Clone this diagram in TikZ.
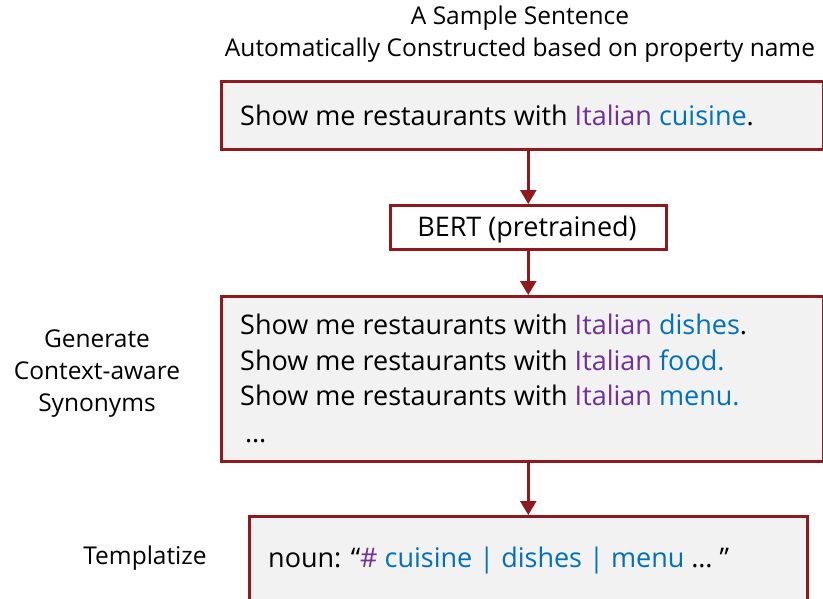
\documentclass[tikz,border=0pt]{standalone}
\usepackage{fontspec}
\setmainfont{Open Sans}
\usetikzlibrary{arrows.meta}
\definecolor{boxred}{RGB}{145,24,28}
\definecolor{boxfill}{RGB}{242,242,242}
\definecolor{ipurple}{RGB}{112,48,160}
\definecolor{iblue}{RGB}{0,112,192}
\begin{document}
\begin{tikzpicture}[x=1pt,y=-1pt,
  every node/.style={font=\fontsize{24.5}{30}\selectfont},
  panel/.style={draw=boxred, line width=2.5pt, fill=boxfill, inner sep=0pt, anchor=north west},
  modelbox/.style={draw=boxred, line width=2.5pt, fill=white, inner sep=0pt, anchor=north west},
  txt/.style={inner sep=0pt, anchor=base west, font=\fontsize{27}{32}\selectfont},
  caption/.style={inner sep=0pt, align=center},
  flow/.style={draw=boxred, line width=2.5pt, -{Triangle[width=16pt,length=14pt]}}]
\useasboundingbox (0,0) rectangle (823,598);
\clip (0,0) rectangle (823,598);

% heading above the first box
\node[caption] (title1) at (520,18) {A Sample Sentence};
\node[caption] (title2) at (520,50) {Automatically Constructed based on property name};

% boxes
\node[panel, minimum width=602pt, minimum height=68pt] (seed) at (220,80) {};
\node[modelbox, minimum width=276pt, minimum height=44pt] (bert) at (389,204) {};
\node[panel, minimum width=602pt, minimum height=165pt] (syn) at (220,295) {};
\node[panel, minimum width=558pt, minimum height=120pt] (tmpl) at (248,515) {};

% box contents
\node[txt] (s0) at (240,125) {Show me restaurants with \textcolor{ipurple}{Italian} \textcolor{iblue}{cuisine}.};
\node[txt, anchor=base] (bertlbl) at (527,236) {BERT (pretrained)};
\node[txt] (s1) at (240,334) {Show me restaurants with \textcolor{ipurple}{Italian} \textcolor{iblue}{dishes}.};
\node[txt] (s2) at (240,370) {Show me restaurants with \textcolor{ipurple}{Italian} \textcolor{iblue}{food.}};
\node[txt] (s3) at (240,405) {Show me restaurants with \textcolor{ipurple}{Italian} \textcolor{iblue}{menu.}};
\node[txt] (s4) at (245,442) {\dots};
\node[txt] (t1) at (268,567) {noun: “\textcolor{ipurple}{\#} \textcolor{iblue}{cuisine | dishes | menu} \dots\ ”};

% side captions
\node[caption] (gen) at (97,374) {Generate\\[2pt]Context-aware\\[2pt]Synonyms};
\node[caption] (tpl) at (145,558) {Templatize};

% flow arrows
\draw[flow] (seed.south -| bert.north) -- (bert.north);
\draw[flow] (bert.south) -- (bert.south |- syn.north);
\draw[flow] (bert.south |- syn.south) -- (bert.south |- tmpl.north);
\end{tikzpicture}
\end{document}
